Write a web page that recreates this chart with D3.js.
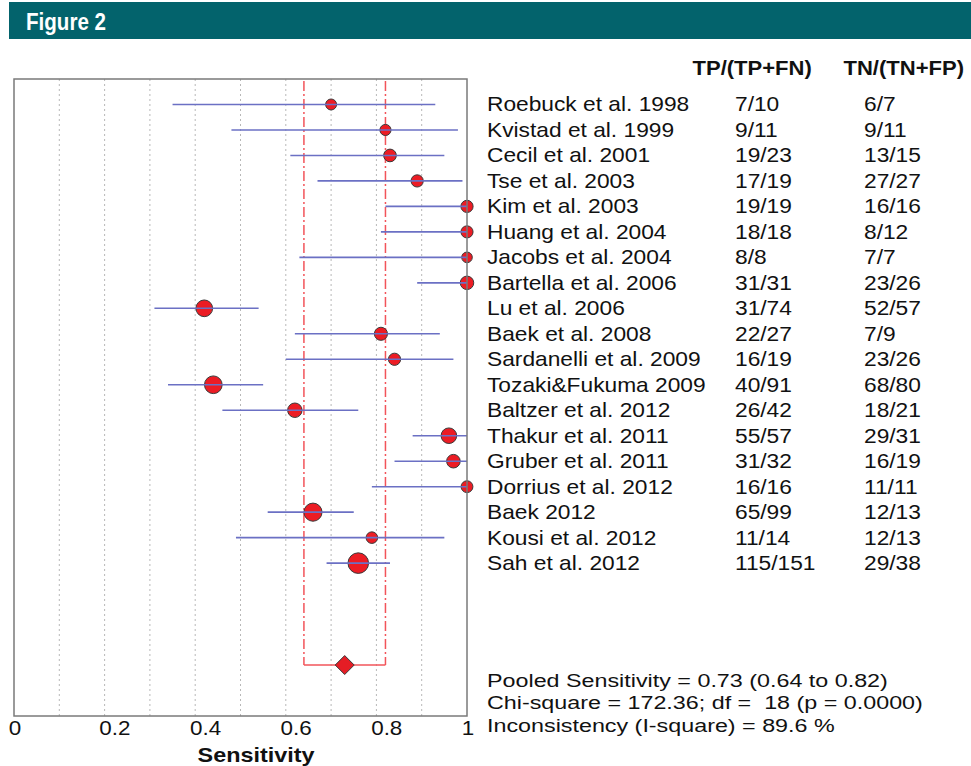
<!DOCTYPE html>
<html>
<head>
<meta charset="utf-8">
<script src="https://cdn.jsdelivr.net/npm/d3@7"></script>
<style>
  body { margin: 0; background: #fff; }
  text { font-family: "Liberation Sans", Arial, sans-serif; fill: #111; white-space: pre; }
</style>
</head>
<body>
<script>
// Studies and their counts
var studies = ["Roebuck et al. 1998", "Kvistad et al. 1999", "Cecil et al. 2001", "Tse et al. 2003",
  "Kim et al. 2003", "Huang et al. 2004", "Jacobs et al. 2004", "Bartella et al. 2006", "Lu et al. 2006",
  "Baek et al. 2008", "Sardanelli et al. 2009", "Tozaki&Fukuma 2009", "Baltzer et al. 2012",
  "Thakur et al. 2011", "Gruber et al. 2011", "Dorrius et al. 2012", "Baek 2012", "Kousi et al. 2012",
  "Sah et al. 2012"];
var tp  = [7, 9, 19, 17, 19, 18, 8, 31, 31, 22, 16, 40, 26, 55, 31, 16, 65, 11, 115];
var pos = [10, 11, 23, 19, 19, 18, 8, 31, 74, 27, 19, 91, 42, 57, 32, 16, 99, 14, 151];
var tn  = [6, 9, 13, 27, 16, 8, 7, 23, 52, 7, 23, 68, 18, 29, 16, 11, 12, 12, 29];
var neg = [7, 11, 15, 27, 16, 12, 7, 26, 57, 9, 26, 80, 21, 31, 19, 11, 13, 13, 38];

// Sensitivity and 95% CI
var sens = [0.70, 0.82, 0.83, 0.89, 1.00, 1.00, 1.00, 1.00, 0.42, 0.81, 0.84, 0.44, 0.62, 0.96, 0.97, 1.00, 0.66, 0.79, 0.76];
var lo   = [0.35, 0.48, 0.61, 0.67, 0.82, 0.81, 0.63, 0.89, 0.31, 0.62, 0.60, 0.34, 0.46, 0.88, 0.84, 0.79, 0.56, 0.49, 0.69];
var hi   = [0.93, 0.98, 0.95, 0.99, 1.00, 1.00, 1.00, 1.00, 0.54, 0.94, 0.97, 0.55, 0.76, 1.00, 1.00, 1.00, 0.75, 0.95, 0.83];

var pooled = [0.73, 0.64, 0.82]; // estimate, lower, upper
var statLines = ["Pooled Sensitivity = 0.73 (0.64 to 0.82)",
  "Chi-square = 172.36; df =  18 (p = 0.0000)",
  "Inconsistency (I-square) = 89.6 %"];
var xTicks = [0, 0.2, 0.4, 0.6, 0.8, 1];
var colHeaders = ["TP/(TP+FN)", "TN/(TN+FP)"];

var W = 971, H = 766;
var plot = {left: 14, right: 467, top: 79, bottom: 716};

var svg = d3.select("body").append("svg")
    .attr("width", W)
    .attr("height", H);

// Header band
svg.append("rect")
    .attr("x", 9).attr("y", 2)
    .attr("width", W - 9).attr("height", 37)
    .attr("fill", "#03636c");
svg.append("text")
    .attr("x", 26).attr("y", 29.5)
    .attr("textLength", 80).attr("lengthAdjust", "spacingAndGlyphs")
    .style("font-size", "23px").style("font-weight", "bold").style("fill", "#fff")
    .text("Figure 2");

// Scales
var x = d3.scaleLinear().domain([0, 1]).range([plot.left, plot.right]);
var y = d3.scaleLinear().domain([-1, 24]).range([plot.top, plot.bottom]);
var r = d3.scaleSqrt().domain([8, 151]).range([5.3, 10.3]);

// Dotted grid
svg.selectAll(".grid")
    .data(d3.range(1, 10).map(function(d) { return d / 10; }))
    .enter().append("line")
    .attr("class", "grid")
    .attr("x1", function(d) { return x(d); })
    .attr("x2", function(d) { return x(d); })
    .attr("y1", plot.top).attr("y2", plot.bottom)
    .attr("stroke", "#b8b8b8").attr("stroke-width", 1)
    .attr("stroke-dasharray", "2,3");

// Pooled CI bracket
var pooledRow = 22;
[pooled[1], pooled[2]].forEach(function(v) {
  svg.append("line")
      .attr("x1", x(v)).attr("x2", x(v))
      .attr("y1", plot.top + 2).attr("y2", y(pooledRow))
      .attr("stroke", "#f2545a").attr("stroke-width", 1.5)
      .attr("stroke-dasharray", "10,3,2,3");
});
svg.append("line")
    .attr("x1", x(pooled[1])).attr("x2", x(pooled[2]))
    .attr("y1", y(pooledRow)).attr("y2", y(pooledRow))
    .attr("stroke", "#f2545a").attr("stroke-width", 1.5);

var idx = d3.range(studies.length);

// Study points
svg.selectAll(".pt")
    .data(idx)
    .enter().append("circle")
    .attr("class", "pt")
    .attr("cx", function(i) { return x(sens[i]); })
    .attr("cy", function(i) { return y(i); })
    .attr("r", function(i) { return r(pos[i]); })
    .attr("fill", "#ec1c24")
    .attr("stroke", "#3a3a3a").attr("stroke-width", 1);

// CI lines on top of the points
svg.selectAll(".ci")
    .data(idx)
    .enter().append("line")
    .attr("class", "ci")
    .attr("x1", function(i) { return x(lo[i]); })
    .attr("x2", function(i) { return x(hi[i]); })
    .attr("y1", function(i) { return y(i); })
    .attr("y2", function(i) { return y(i); })
    .attr("stroke", "#6b70c4").attr("stroke-width", 1.6);

// Pooled diamond
var px = x(pooled[0]), py = y(pooledRow);
svg.append("path")
    .attr("d", "M" + (px - 9.5) + "," + py + "L" + px + "," + (py - 9.5) +
               "L" + (px + 9.5) + "," + py + "L" + px + "," + (py + 9.5) + "Z")
    .attr("fill", "#e51d25").attr("stroke", "#3a3a3a").attr("stroke-width", 1);

// Frame
svg.append("rect")
    .attr("x", plot.left).attr("y", plot.top)
    .attr("width", plot.right - plot.left).attr("height", plot.bottom - plot.top)
    .attr("fill", "none").attr("stroke", "#7a7a7a").attr("stroke-width", 1.5);

// X axis
var axis = svg.append("g")
    .attr("transform", "translate(0," + plot.bottom + ")")
    .call(d3.axisBottom(x).tickValues(xTicks).tickSize(0)
      .tickFormat(function(d) { return d === 0 || d === 1 ? d3.format("d")(d) : d3.format(".1f")(d); }));
axis.select(".domain").remove();
axis.selectAll("text")
    .attr("text-anchor", "start")
    .attr("x", -5).attr("y", 19).attr("dy", null)
    .attr("transform", "scale(1.15,1)")
    .style("font-size", "19.5px").style("fill", "#111");

svg.append("text")
    .attr("transform", "translate(256,761.5) scale(1.2,1)")
    .attr("text-anchor", "middle")
    .style("font-size", "19.5px").style("font-weight", "bold")
    .text("Sensitivity");

// Right-hand table
var colX = [735, 864];
var headX = [692.5, 843.5];
colHeaders.forEach(function(h, k) {
  svg.append("text")
      .attr("transform", "translate(" + headX[k] + ",75) scale(1.13,1)")
      .style("font-size", "19.5px").style("font-weight", "bold")
      .text(h);
});

function rowText(cls, xpos, fn) {
  svg.selectAll("." + cls)
      .data(idx)
      .enter().append("text")
      .attr("class", cls)
      .attr("transform", function(i) { return "translate(" + xpos + "," + (y(i) + 7) + ") scale(1.11,1)"; })
      .style("font-size", "20.5px")
      .text(fn);
}
rowText("name", 487, function(i) { return studies[i]; });
rowText("tpcol", colX[0], function(i) { return tp[i] + "/" + pos[i]; });
rowText("tncol", colX[1], function(i) { return tn[i] + "/" + neg[i]; });

// Summary statistics
var statY = [686.5, 709.3, 731.8];
statLines.forEach(function(s, k) {
  svg.append("text")
      .attr("transform", "translate(487," + statY[k] + ") scale(1.26,1)")
      .style("font-size", "18.5px")
      .text(s);
});
</script>
</body>
</html>
